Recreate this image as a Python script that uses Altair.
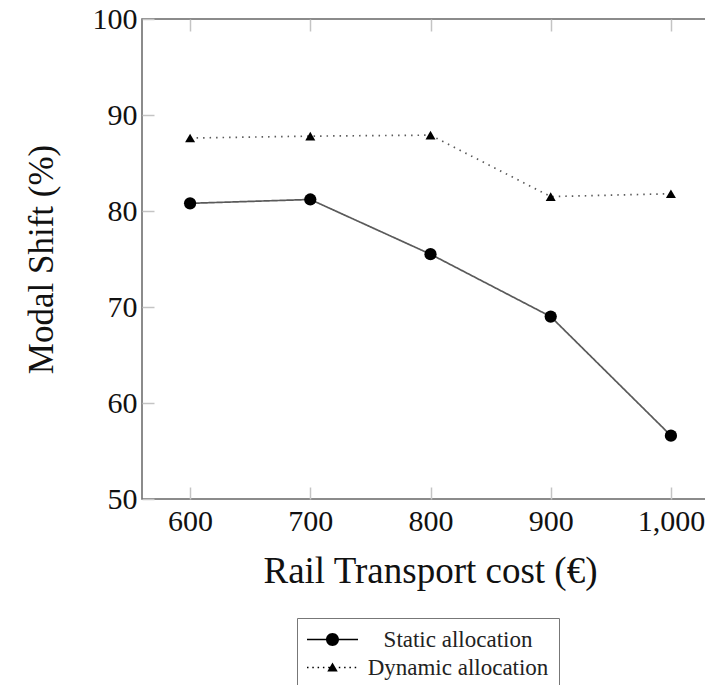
import altair as alt
import pandas as pd

# ---- data ----
costs = [600, 700, 800, 900, 1000]
static_vals = [80.8, 81.2, 75.5, 69.0, 56.6]
dynamic_vals = [87.6, 87.8, 87.9, 81.5, 81.8]
series_names = ["Static allocation", "Dynamic allocation"]
x_ticks = [600, 700, 800, 900, 1000]
y_ticks = [50, 60, 70, 80, 90, 100]

df = pd.DataFrame({
    "cost": costs + costs,
    "share": static_vals + dynamic_vals,
    "series": [series_names[0]] * len(costs) + [series_names[1]] * len(costs),
})

FONT = "Liberation Serif"
TICK = 12
TICK_COLOR = "#c4c4c4"
is_dyn = f"datum.series == '{series_names[1]}'"

x_scale = alt.Scale(domain=[560, 1040], nice=False, zero=False)
y_scale = alt.Scale(domain=[50, 100], nice=False, zero=False)

common_axis = dict(offset=-TICK, tickSize=TICK, tickColor=TICK_COLOR, tickWidth=1.5,
                   domain=False, grid=False)

lines = alt.Chart(df).mark_line(color="#5a5a5a", strokeWidth=1.7).encode(
    x=alt.X("cost:Q", scale=x_scale,
            axis=alt.Axis(orient="bottom", values=x_ticks, format=",d",
                          labelFont=FONT, labelFontSize=30, labelColor="#111",
                          labelPadding=7, title="Rail Transport cost (€)",
                          titleFont=FONT, titleFontSize=37, titleFontWeight="normal",
                          titleColor="#111", titleX=288, titleY=95,
                          titleBaseline="alphabetic", **common_axis)),
    y=alt.Y("share:Q", scale=y_scale,
            axis=alt.Axis(orient="left", values=y_ticks,
                          labelFont=FONT, labelFontSize=30, labelColor="#111",
                          labelPadding=5, title="Modal Shift (%)",
                          titleFont=FONT, titleFontSize=35, titleFontWeight="normal",
                          titleColor="#111", titleX=-102,
                          titleBaseline="alphabetic", **common_axis)),
    detail="series:N",
    strokeDash=alt.condition(is_dyn, alt.value([1.5, 5]), alt.value([1, 0])),
)

points = alt.Chart(df).mark_point(filled=True, color="black", opacity=1).encode(
    x=alt.X("cost:Q", scale=x_scale,
            axis=alt.Axis(orient="top", values=x_ticks, labels=False, title=None, **common_axis)),
    y=alt.Y("share:Q", scale=y_scale,
            axis=alt.Axis(orient="right", values=y_ticks, labels=False, title=None, **common_axis)),
    shape=alt.condition(is_dyn, alt.value("triangle-up"), alt.value("circle")),
    size=alt.condition(is_dyn, alt.value(100), alt.value(150)),
)

# legend symbols: line + marker as filled custom symbol paths (unit coords; size 100 -> x5 px)
PATH_S = ("M-5.1,-0.14H5.1V0.14H-5.1Z"
          "M1.3,0A1.3,1.3,0,1,1,-1.3,0A1.3,1.3,0,1,1,1.3,0Z")
dots = "".join(f"M{-5.1 + i * 1.06:.2f},-0.15h0.3v0.3h-0.3Z" for i in range(10))
PATH_D = dots + "M0,-1L1.05,0.8L-1.05,0.8Z"

legend = alt.Legend(
    title=None, orient="none", legendX=155, legendY=599, direction="vertical",
    labelFont=FONT, labelFontSize=23, labelColor="#222", labelAlign="center",
    labelOffset=114, labelLimit=400, symbolSize=100, symbolOffset=14,
    symbolOpacity=1, symbolFillColor="black", symbolStrokeWidth=0,
    rowPadding=4, padding=10, strokeColor="#777", fillColor="white",
)

legend_layer = alt.Chart(df).mark_point(filled=True, color="black", opacity=0).encode(
    x=alt.X("cost:Q", scale=x_scale, axis=None),
    y=alt.Y("share:Q", scale=y_scale, axis=None),
    shape=alt.Shape("series:N", scale=alt.Scale(domain=series_names, range=[PATH_S, PATH_D]),
                    legend=legend),
)

chart = alt.layer(lines, points, legend_layer).resolve_axis(x="independent", y="independent").properties(
    width=577, height=480,
    autosize=alt.AutoSizeParams(type="none"),
    padding={"left": 134, "top": 11, "right": -14, "bottom": 186},
    background="white",
).configure_view(stroke="#666", strokeWidth=1.5).configure_legend(labelFont=FONT)

chart.save("out.html", embed_options={"renderer": "svg", "actions": False})
